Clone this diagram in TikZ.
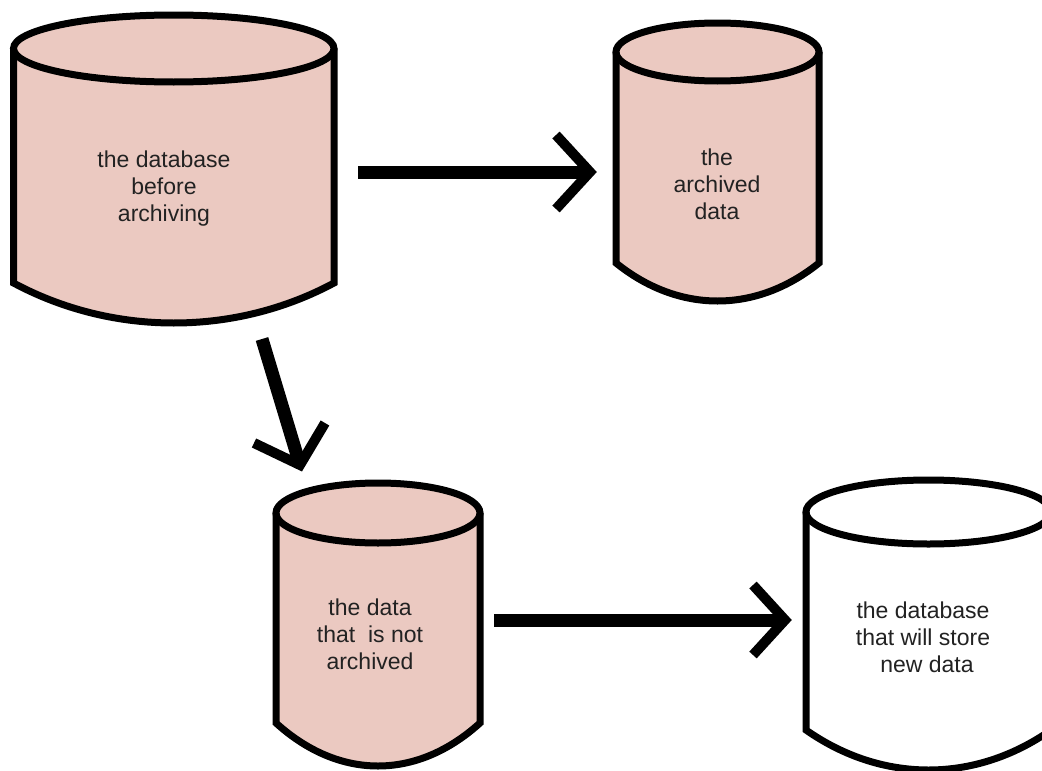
\documentclass[tikz,border=0pt]{standalone}
\usepackage{fontspec}
\setmainfont{Liberation Sans}
\usetikzlibrary{calc}
\definecolor{dbpink}{RGB}{235,201,193}
\definecolor{dbtxt}{RGB}{34,34,34}
\tikzset{
  cylline/.style={line width=7pt, line join=miter, draw=black},
  dbtext/.style={align=center, text=dbtxt, font=\fontsize{23}{27}\selectfont, inner sep=0pt},
  shaft/.style={line width=13pt, line cap=butt, draw=black},
  barb/.style={line width=10pt, line join=miter, line cap=butt, draw=black},
}
\newcommand{\dbcyl}[7]{% #1 L, #2 R, #3 cy, #4 ry, #5 B, #6 dip, #7 fill
  \pgfmathsetmacro{\cylCx}{(#1+#2)/2}
  \pgfmathsetmacro{\cylRx}{(#2-#1)/2}
  \pgfmathsetmacro{\cylA}{0.31*(#2-#1)}
  \pgfmathsetmacro{\cylH}{4*#6/3}
  \path[fill=#7] (#1,#3) -- (#1,#5) .. controls (#1+\cylA,#5+\cylH) and (#2-\cylA,#5+\cylH) .. (#2,#5) -- (#2,#3) -- cycle;
  \path[fill=#7] (\cylCx,#3) ellipse [x radius=\cylRx pt, y radius=#4 pt];
  \draw[cylline] (#1,#3) -- (#1,#5) .. controls (#1+\cylA,#5+\cylH) and (#2-\cylA,#5+\cylH) .. (#2,#5) -- (#2,#3);
  \draw[cylline] (\cylCx,#3) ellipse [x radius=\cylRx pt, y radius=#4 pt];
}
\begin{document}
\begin{tikzpicture}[x=1pt,y=-1pt]
  \clip (0,0) rectangle (1042,771);
  \fill[white] (0,0) rectangle (1042,771);
  % cylinders
  \dbcyl{13.5}{334}{48.5}{33.5}{283}{40}{dbpink}
  \dbcyl{616}{819}{52}{29}{263}{38}{dbpink}
  \dbcyl{276}{480}{513}{30}{723}{43}{dbpink}
  \dbcyl{806}{1051}{512}{32}{730}{40}{white}
  % texts
  \node[dbtext] (t1) at (164,189) {the database\\before\\archiving};
  \node[dbtext] (t2) at (717,184) {the\\archived\\data};
  \node[dbtext] (t3) at (370,634) {the data\\that\ \ is not\\archived};
  \node[dbtext] (t4) at (923,637) {the database\\that will store\\\hspace{0.35em}new data};
  % arrows
  \coordinate (a1s) at (358,172);
  \coordinate (a1t) at (590,172);
  \draw[shaft] (a1s) -- ($(a1t)+(-4,0)$);
  \draw[barb] ($(a1t)+(-34,-37)$) -- (a1t) -- ($(a1t)+(-34,37)$);
  \coordinate (a2s) at (494,620);
  \coordinate (a2t) at (785,620);
  \draw[shaft] (a2s) -- ($(a2t)+(-4,0)$);
  \draw[barb] ($(a2t)+(-32,-35)$) -- (a2t) -- ($(a2t)+(-32,35)$);
  \coordinate (a3s) at (262,339);
  \coordinate (a3t) at (300,465);
  \draw[shaft] (a3s) -- ($(a3s)!0.97!(a3t)$);
  \draw[barb] ($(a3t)+(-46,-22)$) -- (a3t) -- ($(a3t)+(25,-42)$);
\end{tikzpicture}
\end{document}
